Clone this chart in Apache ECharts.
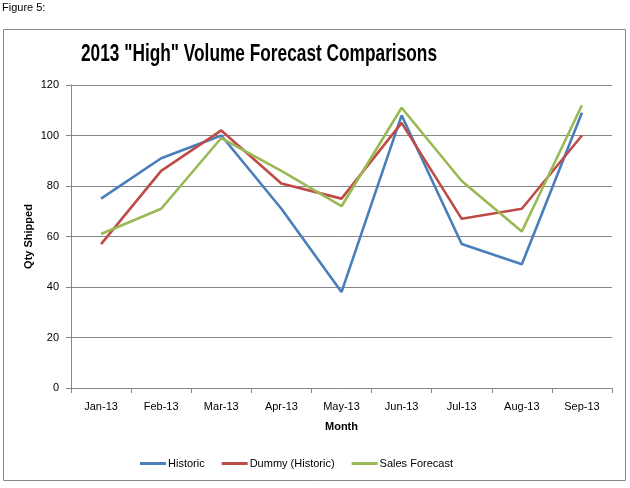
<!DOCTYPE html>
<html><head><meta charset="utf-8">
<script src="https://cdn.jsdelivr.net/npm/echarts@6/dist/echarts.min.js"></script>
<style>html,body{margin:0;padding:0;background:#fff}#c{width:630px;height:488px}</style>
</head><body><div id="c"></div>
<script>
const categories = ['Jan-13','Feb-13','Mar-13','Apr-13','May-13','Jun-13','Jul-13','Aug-13','Sep-13'];
const historic = [75, 91, 100, 71, 38, 108, 57, 49, 109];
const dummy = [57, 86, 102, 81, 75, 105, 67, 71, 100];
const salesForecast = [61, 71, 99, 86, 72, 111, 82, 62, 112];
const yTicks = [0, 20, 40, 60, 80, 100, 120];

const font = 'Liberation Sans, Arial, sans-serif';
const chart = echarts.init(document.getElementById('c'), null, {renderer: 'canvas'});
const mk = (name, data, color) => ({
  name, type: 'line', data, symbol: 'none', smooth: false,
  lineStyle: {color, width: 2.6}, itemStyle: {color}
});
chart.setOption({
  animation: false,
  backgroundColor: '#fff',
  graphic: [
    {type: 'rect', shape: {x: 3.5, y: 29.5, width: 622, height: 451}, style: {fill: 'none', stroke: '#868686', lineWidth: 1}},
    {type: 'text', x: 2, y: 2, style: {text: 'Figure 5:', font: '11px ' + font, fill: '#000'}},
    {type: 'text', x: 259, y: 54, scaleX: 0.72,
      style: {text: '2013 "High" Volume Forecast Comparisons', font: 'bold 24px ' + font, fill: '#000',
        textAlign: 'center', textVerticalAlign: 'middle'}}
  ],
  legend: {
    bottom: 14, left: 135, itemWidth: 26, itemHeight: 3, itemGap: 17,
    icon: 'rect',
    textStyle: {fontFamily: font, fontSize: 11, color: '#000', padding: [0,0,0,-3]},
    data: ['Historic', 'Dummy (Historic)', 'Sales Forecast']
  },
  grid: {left: 71, right: 18, top: 85, bottom: 100, containLabel: false},
  xAxis: {
    type: 'category', data: categories, boundaryGap: true,
    name: 'Month', nameLocation: 'middle', nameGap: 33,
    nameTextStyle: {fontFamily: font, fontSize: 11, fontWeight: 'bold', color: '#000'},
    axisLine: {lineStyle: {color: '#868686'}},
    axisTick: {show: true, length: 5, lineStyle: {color: '#868686'}},
    axisLabel: {fontFamily: font, fontSize: 11, color: '#000', margin: 13}
  },
  yAxis: {
    type: 'value', min: 0, max: 120, interval: 20,
    name: 'Qty Shipped', nameLocation: 'middle', nameGap: 37, nameMoveOverlap: false,
    nameTextStyle: {fontFamily: font, fontSize: 11, fontWeight: 'bold', color: '#000'},
    axisLine: {show: true, lineStyle: {color: '#868686'}},
    axisTick: {show: true, length: 5, lineStyle: {color: '#868686'}},
    axisLabel: {fontFamily: font, fontSize: 11, color: '#000', margin: 12,
      formatter: v => yTicks.includes(v) ? String(v) : ''},
    splitLine: {lineStyle: {color: '#868686', width: 1}}
  },
  series: [
    mk('Historic', historic, '#4A7EBB'),
    mk('Dummy (Historic)', dummy, '#BE4B48'),
    mk('Sales Forecast', salesForecast, '#98B954')
  ]
});
</script></body></html>
